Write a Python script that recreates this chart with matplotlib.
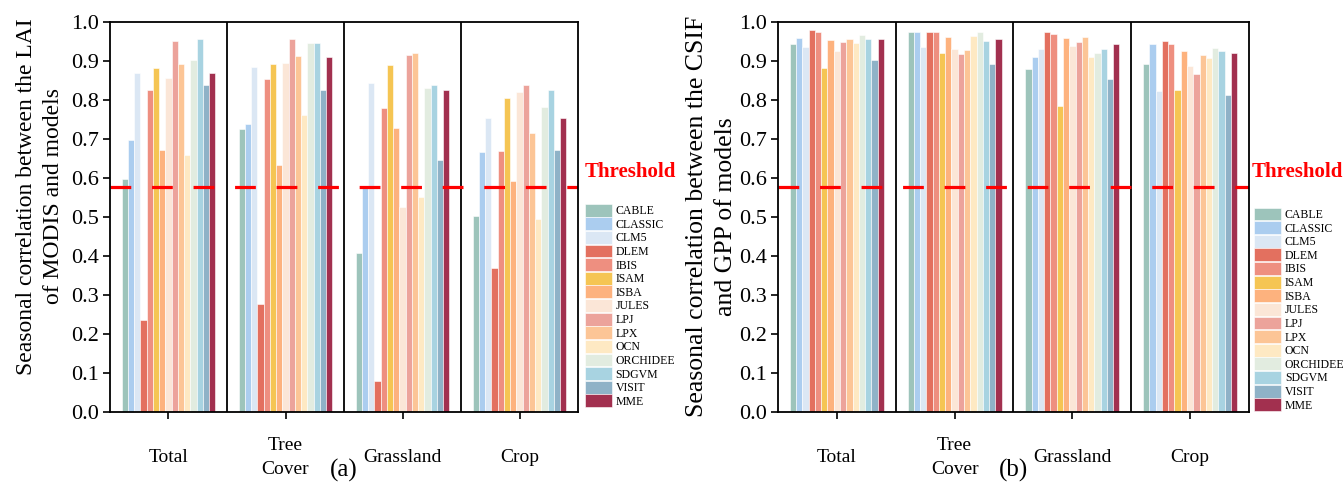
import matplotlib
matplotlib.use('Agg')
import matplotlib.pyplot as plt
import numpy as np

plt.rcParams['font.family'] = ['Liberation Serif', 'DejaVu Serif']

models = ['CABLE', 'CLASSIC', 'CLM5', 'DLEM', 'IBIS', 'ISAM', 'ISBA', 'JULES',
          'LPJ', 'LPX', 'OCN', 'ORCHIDEE', 'SDGVM', 'VISIT', 'MME']
colors = ['#9dc4bb', '#abcdef', '#dbe7f4', '#e3705f', '#ee8f80', '#f5c553',
          '#fdb27e', '#fbe6d7', '#eca39b', '#fcc596', '#fee9c3', '#e2ece0',
          '#a8d3e1', '#8fb2c7', '#a2304f']
groups = ['Total', 'Tree\nCover', 'Grassland', 'Crop']
threshold = 0.576

# (a) LAI MODIS vs models, rows = groups, cols = models
lai_total = [0.597, 0.698, 0.869, 0.235, 0.825, 0.881, 0.672, 0.855, 0.950, 0.891, 0.658, 0.903, 0.957, 0.837, 0.869]
lai_tree = [0.725, 0.737, 0.883, 0.276, 0.853, 0.891, 0.633, 0.894, 0.956, 0.911, 0.760, 0.946, 0.946, 0.826, 0.909]
lai_grass = [0.408, 0.575, 0.842, 0.079, 0.780, 0.889, 0.728, 0.526, 0.914, 0.919, 0.550, 0.829, 0.838, 0.645, 0.826]
lai_crop = [0.503, 0.665, 0.754, 0.368, 0.668, 0.805, 0.591, 0.821, 0.839, 0.714, 0.495, 0.782, 0.824, 0.672, 0.752]

# (b) CSIF vs GPP of models
gpp_total = [0.944, 0.959, 0.935, 0.979, 0.974, 0.881, 0.953, 0.926, 0.949, 0.955, 0.946, 0.966, 0.955, 0.902, 0.955]
gpp_tree = [0.975, 0.973, 0.936, 0.973, 0.974, 0.919, 0.960, 0.930, 0.917, 0.927, 0.963, 0.975, 0.951, 0.891, 0.956]
gpp_grass = [0.879, 0.909, 0.930, 0.974, 0.969, 0.785, 0.958, 0.937, 0.948, 0.962, 0.909, 0.921, 0.931, 0.853, 0.943]
gpp_crop = [0.891, 0.944, 0.823, 0.951, 0.944, 0.826, 0.926, 0.886, 0.867, 0.915, 0.907, 0.933, 0.926, 0.812, 0.919]


def draw_panel(ax, data, ylabel, ylab_size, ylab_xy, tag, leg_anchor, thr_x):
    w = 0.8 / len(models)
    xg = np.arange(len(groups))
    for i, m in enumerate(models):
        vals = [row[i] for row in data]
        ax.bar(xg + (i - 7) * w, vals, width=w, color=colors[i],
               edgecolor='white', linewidth=0.4, label=m)
    for s in [0.5, 1.5, 2.5]:
        ax.axvline(s, color='black', lw=1.3)
    ax.axhline(threshold, color='red', lw=2.3, ls=(0, (6.5, 6.5)))
    ax.set_xlim(-0.5, 3.5)
    ax.set_ylim(0, 1.0)
    ax.set_yticks(np.arange(0, 1.01, 0.1))
    ax.set_yticklabels(['%.1f' % v for v in np.arange(0, 1.01, 0.1)], fontsize=16)
    ax.set_xticks(xg)
    ax.set_xticklabels(groups, fontsize=14, va='center', linespacing=1.5)
    ax.tick_params(axis='x', length=5, width=1.2, pad=28)
    ax.tick_params(axis='y', length=5, width=1.2, pad=3)
    for sp in ax.spines.values():
        sp.set_linewidth(1.3)
    ax.set_ylabel(ylabel, fontsize=ylab_size, linespacing=1.4)
    ax.yaxis.set_label_coords(*ylab_xy)
    ax.text(thr_x, 0.615, 'Threshold', transform=ax.transAxes, color='red',
            fontsize=15, fontweight='bold', ha='left', va='center')
    ax.text(0.5, -0.15, tag, transform=ax.transAxes, fontsize=18,
            ha='center', va='center')
    ax.legend(loc='lower left', bbox_to_anchor=leg_anchor, frameon=False,
              fontsize=8.5, borderpad=0, borderaxespad=0, labelspacing=0.02,
              handlelength=2.3, handleheight=1.3, handletextpad=0.3)


fig = plt.figure(figsize=(13.43, 4.88), dpi=100)
ax1 = fig.add_axes([0.0819, 0.1564, 0.3485, 0.799])
ax2 = fig.add_axes([0.5793, 0.1564, 0.3507, 0.799])

draw_panel(ax1, [lai_total, lai_tree, lai_grass, lai_crop],
           'Seasonal correlation between the LAI\nof MODIS and models', 17, (-0.098, 0.552),
           '(a)', (1.015, 0.01), 1.015)
draw_panel(ax2, [gpp_total, gpp_tree, gpp_grass, gpp_crop],
           'Seasonal correlation between the CSIF\nand GPP of models', 18.5, (-0.087, 0.5),
           '(b)', (1.011, 0.0), 1.006)

fig.savefig('out.png', dpi=100)
